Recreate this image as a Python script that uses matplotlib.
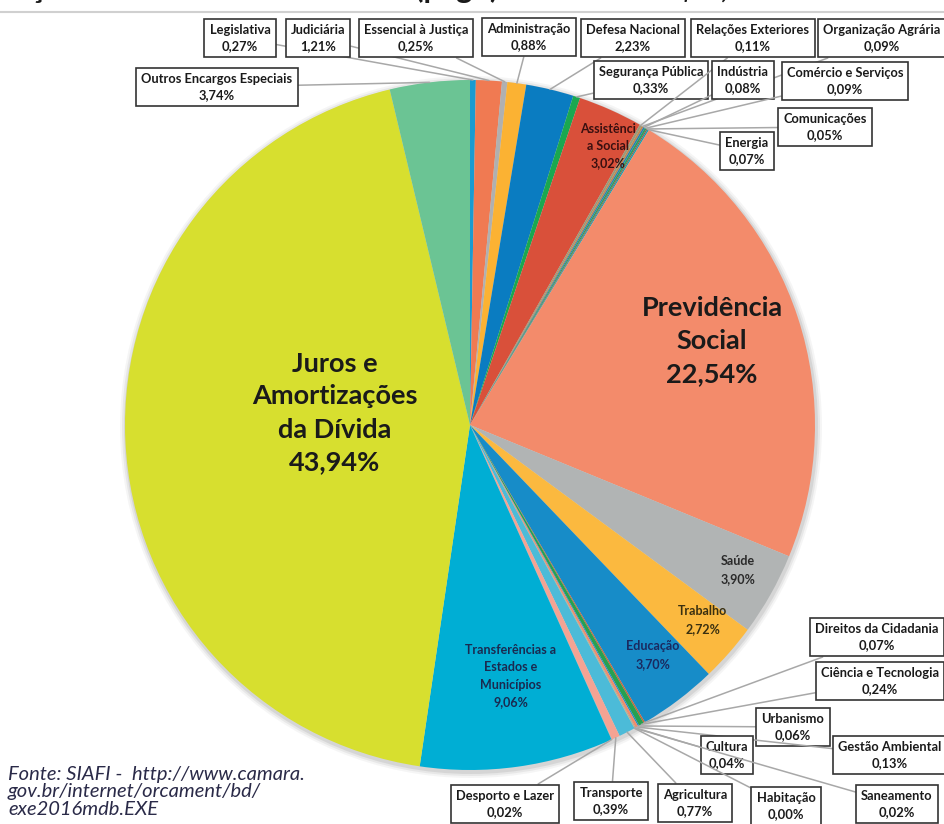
import matplotlib.pyplot as plt
from matplotlib.patches import Circle
import numpy as np

plt.rcParams['font.family'] = ['Lato', 'DejaVu Sans']

# Budget 2016 (paid) by function, % of total, clockwise from 12 o'clock
names = [
    'Legislativa', 'Judiciária', 'Essencial à Justiça', 'Administração',
    'Defesa Nacional', 'Segurança Pública', 'Assistência Social',
    'Relações Exteriores', 'Organização Agrária', 'Indústria',
    'Comércio e Serviços', 'Comunicações', 'Energia', 'Previdência Social',
    'Saúde', 'Trabalho', 'Educação', 'Direitos da Cidadania',
    'Ciência e Tecnologia', 'Urbanismo', 'Gestão Ambiental', 'Cultura',
    'Saneamento', 'Habitação', 'Agricultura', 'Transporte',
    'Desporto e Lazer', 'Transferências a Estados e Municípios',
    'Juros e Amortizações da Dívida', 'Outros Encargos Especiais',
]
values = [
    0.27, 1.21, 0.25, 0.88, 2.23, 0.33, 3.02,
    0.11, 0.09, 0.08, 0.09, 0.05, 0.07, 22.54,
    3.90, 2.72, 3.70, 0.07, 0.24, 0.06, 0.13, 0.04,
    0.02, 0.00, 0.77, 0.39, 0.02, 9.06, 43.94, 3.74,
]
colors = [
    '#1a9bd0', '#f07a52', '#b0b0b0', '#fbb233', '#0a7cc1', '#1aa850', '#d9503a',
    '#9a9a7a', '#c08850', '#2a7fb0', '#27a060', '#8a5a40', '#1aa0b0', '#f38b6b',
    '#b1b4b4', '#fbb93f', '#178cc8', '#c8643a', '#27a050', '#1a8bc8', '#f28c6a',
    '#a5a5a5', '#fbb130', '#0a78c0', '#4cbbd8', '#f4a393', '#b0b0b0', '#00aed4',
    '#d7df2f', '#6bc494',
]

# inside labels: name -> (text, x, y, fontsize, color)  (image pixel coords)
inside = {
    'Juros e Amortizações da Dívida': ('Juros e\nAmortizações\nda Dívida', 335, 413, 19.5, '#1a1a1a'),
    'Previdência Social': ('Previdência\nSocial', 712, 341, 19.5, '#1a1a1a'),
    'Assistência Social': ('Assistênci\na Social', 608, 146, 9, '#3a1010'),
    'Saúde': ('Saúde', 738, 570, 9, '#2a2a2a'),
    'Trabalho': ('Trabalho', 703, 620, 9, '#3a3010'),
    'Educação': ('Educação', 653, 655, 9, '#1a2a60'),
    'Transferências a Estados e Municípios': ('Transferências a\nEstados e\nMunicípios', 511, 676, 9, '#1a2a50'),
}

# boxed labels: name -> box centre (image pixel coords)
boxes = {
    'Legislativa': (240, 38), 'Judiciária': (318, 38),
    'Essencial à Justiça': (416, 38), 'Administração': (529, 37),
    'Defesa Nacional': (633, 38), 'Relações Exteriores': (753, 38),
    'Organização Agrária': (882, 38), 'Outros Encargos Especiais': (217, 87),
    'Segurança Pública': (651, 80), 'Indústria': (743, 80),
    'Comércio e Serviços': (845, 81), 'Comunicações': (825, 127),
    'Energia': (747, 151), 'Direitos da Cidadania': (877, 637),
    'Ciência e Tecnologia': (880, 681), 'Urbanismo': (793, 727),
    'Gestão Ambiental': (890, 755), 'Cultura': (727, 755),
    'Saneamento': (897, 804), 'Habitação': (786, 806),
    'Agricultura': (695, 803), 'Transporte': (611, 801),
    'Desporto e Lazer': (505, 804),
}

W, H = 945, 824
cx, cy, R = 470, 425, 345


def Y(y):
    return H - y


def pct(v):
    return f'{v:.2f}'.replace('.', ',') + '%'


fig = plt.figure(figsize=(9.45, 8.24), dpi=100)
ax = fig.add_axes([0, 0, 1, 1])

# soft shadow
for off, a in [(6, 0.08), (4, 0.12), (2, 0.18)]:
    ax.add_patch(Circle((cx + 1, Y(cy) - 2), R + off, color='#888888', alpha=a, lw=0, zorder=0))

wedges, _ = ax.pie(values, colors=colors, startangle=90, counterclock=False,
                   center=(cx, Y(cy)), radius=R, wedgeprops=dict(linewidth=0))

total = sum(values)
cum = np.cumsum([0] + values[:-1])
for i, name in enumerate(names):
    v = values[i]
    if name in inside:
        txt, x, y, fs, col = inside[name]
        ls = 1.45 if fs > 12 else 1.55
        ax.text(x, Y(y), txt + '\n' + pct(v), ha='center', va='center', fontsize=fs,
                fontweight='bold', color=col, linespacing=ls, zorder=5)
    else:
        mid = (cum[i] + v / 2) / total * 2 * np.pi
        px = cx + R * np.sin(mid)
        py = Y(cy) + R * np.cos(mid)
        bx, by = boxes[name]
        ax.annotate(name + '\n' + pct(v), xy=(px, py), xytext=(bx, Y(by)),
                    ha='center', va='center', fontsize=9.3, fontweight='bold',
                    color='#1a1a1a', linespacing=1.45, zorder=6,
                    bbox=dict(boxstyle='square,pad=0.4', fc='white', ec='#333333', lw=1.2),
                    arrowprops=dict(arrowstyle='-', color='#a8a8a8', lw=1.1,
                                    shrinkA=0, shrinkB=0))

# cropped title and rule at the top
ax.text(-6, Y(-2), 'Orçamento Federal Executado (pago) em 2016 = R$ 2,572 trilhão',
        ha='left', va='baseline', fontsize=22, fontweight='bold', color='#1a1a1a')
ax.plot([0, W], [Y(12), Y(12)], color='#d0d0d0', lw=1.5)

ax.text(8, Y(792), 'Fonte: SIAFI -  http://www.camara.\ngov.br/internet/orcament/bd/\nexe2016mdb.EXE',
        ha='left', va='center', fontsize=14.5, fontstyle='italic', color='#2a2a48',
        linespacing=1.05)

ax.set_xlim(0, W)
ax.set_ylim(0, H)
ax.set_aspect('equal')
ax.axis('off')

fig.savefig('out.png', dpi=100)
